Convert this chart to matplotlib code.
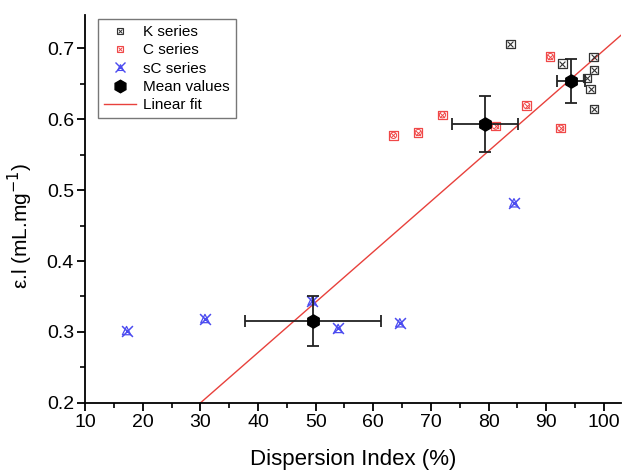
import matplotlib
matplotlib.use("Agg")
import matplotlib.pyplot as plt
from matplotlib.lines import Line2D
from matplotlib.ticker import MultipleLocator

plt.rcParams['font.family'] = ['Liberation Sans', 'DejaVu Sans']

# K series
k_x = [83.8, 92.8, 98.2, 98.3, 97.1, 97.7, 98.3]
k_y = [0.706, 0.678, 0.687, 0.669, 0.658, 0.642, 0.614]
# C series
c_x = [63.5, 67.8, 72.0, 81.2, 86.6, 90.7, 92.5]
c_y = [0.577, 0.581, 0.606, 0.590, 0.619, 0.688, 0.587]
# sC series
sc_x = [17.2, 30.8, 49.4, 53.9, 64.6, 84.4]
sc_y = [0.302, 0.319, 0.344, 0.305, 0.313, 0.482]
# Mean values with errors
m_x = [49.5, 79.4, 94.3]
m_y = [0.315, 0.593, 0.654]
m_xerr = [11.8, 5.7, 2.5]
m_yerr = [0.035, 0.039, 0.031]
# Linear fit: y = a + b*x
fit_a = 0.2 - 0.0071 * 30.0
fit_b = 0.0071
fit_xrange = [10, 103]

fig = plt.figure(figsize=(6.22, 4.70), dpi=100)
ax = fig.add_axes([0.1367, 0.1426, 0.862, 0.8254])

# linear fit
xs = fit_xrange
ys = [fit_a + fit_b * v for v in xs]
ax.plot(xs, ys, color='#e8413c', lw=1.0, zorder=2)

ms = 6
# K series
ax.scatter(k_x, k_y, marker='s', s=ms**2, facecolor='none', edgecolor='#333333', lw=0.9, zorder=3)
ax.scatter(k_x, k_y, marker='x', s=(ms*0.7)**2, color='#333333', lw=0.8, zorder=3)
# C series
ax.scatter(c_x, c_y, marker='s', s=ms**2, facecolor='none', edgecolor='#f04848', lw=0.9, zorder=3)
ax.scatter(c_x, c_y, marker='o', s=(ms*0.75)**2, facecolor='none', edgecolor='#f04848', lw=0.7, zorder=3)
ax.scatter(c_x, c_y, marker='x', s=(ms*0.6)**2, color='#f04848', lw=0.7, zorder=3)
# sC series
ax.scatter(sc_x, sc_y, marker='x', s=(ms*1.3)**2, color='#4b4bf0', lw=1.1, zorder=3)
ax.scatter(sc_x, sc_y, marker='^', s=(ms*1.0)**2, facecolor='none', edgecolor='#4b4bf0', lw=0.9, zorder=3)

# Means
ax.errorbar(m_x, m_y, xerr=m_xerr, yerr=m_yerr, fmt='none', ecolor='#222222',
            elinewidth=1.3, capsize=4, capthick=1.3, zorder=4)
ax.scatter(m_x, m_y, marker='h', s=9.5**2, color='black', zorder=5)

ax.set_xlim(10, 103)
ax.set_ylim(0.2, 0.7465)
ax.xaxis.set_major_locator(MultipleLocator(10))
ax.xaxis.set_minor_locator(MultipleLocator(5))
ax.yaxis.set_major_locator(MultipleLocator(0.1))
ax.yaxis.set_minor_locator(MultipleLocator(0.05))
ax.spines['top'].set_visible(False)
ax.spines['right'].set_visible(False)
for s in ['left', 'bottom']:
    ax.spines[s].set_linewidth(1.3)
ax.tick_params(which='major', direction='out', length=6, width=1.3, labelsize=14, pad=2)
ax.tick_params(which='minor', direction='out', length=3.5, width=1.2)
ax.set_xticks([10, 20, 30, 40, 50, 60, 70, 80, 90, 100])
ax.set_xticklabels(['10', '20', '30', '40', '50', '60', '70', '80', '90', '100'])
ax.set_xlabel('Dispersion Index (%)', fontsize=16, labelpad=13)
ax.set_ylabel('ε.l (mL.mg$^{-1}$)', fontsize=15)
ax.yaxis.set_label_coords(-0.093, 0.456)

# Legend
h_k = (Line2D([], [], ls='none', marker='s', mfc='none', mec='#333333', ms=5, mew=0.8),
       Line2D([], [], ls='none', marker='x', color='#333333', ms=3.5, mew=0.7))
h_c = (Line2D([], [], ls='none', marker='s', mfc='none', mec='#f04848', ms=5, mew=0.8),
       Line2D([], [], ls='none', marker='x', color='#f04848', ms=3.5, mew=0.7))
h_sc = (Line2D([], [], ls='none', marker='x', color='#4b4bf0', ms=6.5, mew=1.0),
        Line2D([], [], ls='none', marker='^', mfc='none', mec='#4b4bf0', ms=5, mew=0.8))
h_m = Line2D([], [], ls='none', marker='h', color='black', ms=9)
h_f = Line2D([], [], color='#e8413c', lw=1.0)
leg = ax.legend([h_k, h_c, h_sc, h_m, h_f],
                ['K series', 'C series', 'sC series', 'Mean values', 'Linear fit'],
                loc='upper left', bbox_to_anchor=(0.024, 0.99), borderaxespad=0,
                fontsize=11, labelspacing=0.28, handlelength=2.1, handletextpad=0.45,
                borderpad=0.4, fancybox=False, framealpha=1, edgecolor='#777777')
leg.get_frame().set_linewidth(1.0)

fig.savefig('out.png', dpi=100)
